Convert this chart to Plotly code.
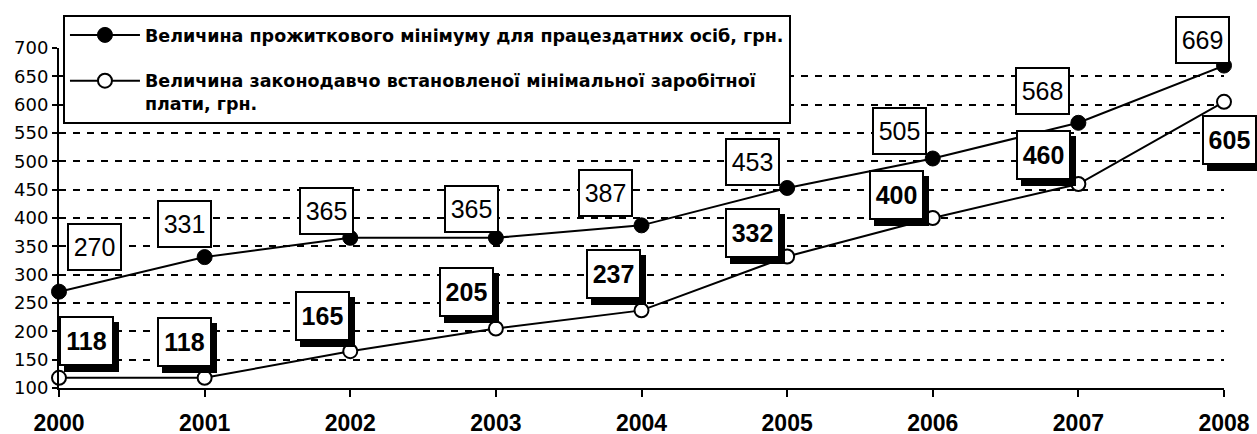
import plotly.graph_objects as go

# ---- data ----
years = [2000, 2001, 2002, 2003, 2004, 2005, 2006, 2007, 2008]
subsistence = [270, 331, 365, 365, 387, 453, 505, 568, 669]
min_wage = [118, 118, 165, 205, 237, 332, 400, 460, 605]
name_sub = "<b>Величина прожиткового мінімуму для працездатних осіб, грн.</b>"
name_wage = "<b>Величина законодавчо встановленої мінімальної заробітної<br>плати, грн.</b>"

# ---- label offsets (pixels, relative to point) ----
sub_dx = [35, -20, -24, -24, -36, -35, -33, -36, -22]
sub_dy = [-45, -33, -27, -29, -32, -26, -28, -32, -26]
wage_dx = [27, -20, -28, -29, -28, -35, -36, -35, 5]
wage_dy = [-37, -36, -35, -37, -36, -24, -23, -29, 38]

FONT = "Arial, Liberation Sans, sans-serif"
WIDE = "DejaVu Sans, Arial, sans-serif"

fig = go.Figure()
fig.add_trace(go.Scatter(
    x=years, y=subsistence, name=name_sub, mode="lines+markers",
    line=dict(color="black", width=2),
    marker=dict(symbol="circle", size=15, color="black", line=dict(color="black", width=1)),
    cliponaxis=False, legendgroup="a",
))
fig.add_trace(go.Scatter(
    x=years, y=min_wage, name=name_wage, mode="lines+markers",
    line=dict(color="black", width=2),
    marker=dict(symbol="circle", size=14, color="white", line=dict(color="black", width=2)),
    cliponaxis=False, legendgroup="b",
))

annotations = []
W, H = 51, 44
for x, v, dx, dy in zip(years, subsistence, sub_dx, sub_dy):
    annotations.append(dict(
        x=x, y=v, xref="x", yref="y", text=str(v), showarrow=False,
        xshift=dx, yshift=-dy, width=W, height=H,
        font=dict(family=FONT, size=25, color="black"),
        bgcolor="white", bordercolor="black", borderwidth=2, borderpad=0,
        align="center", valign="middle",
    ))
for x, v, dx, dy in zip(years, min_wage, wage_dx, wage_dy):
    # shadow
    annotations.append(dict(
        x=x, y=v, xref="x", yref="y", text="<b>%d</b>" % v, showarrow=False,
        xshift=dx + 5, yshift=-dy - 6, width=W, height=H + 2,
        font=dict(family=FONT, size=25, color="black"),
        bgcolor="black", bordercolor="black", borderwidth=2, borderpad=0,
    ))
    annotations.append(dict(
        x=x, y=v, xref="x", yref="y", text="<b>%d</b>" % v, showarrow=False,
        xshift=dx, yshift=-dy, width=W, height=H + 2,
        font=dict(family=FONT, size=25, color="black"),
        bgcolor="white", bordercolor="black", borderwidth=2, borderpad=0,
        align="center", valign="middle",
    ))

fig.update_layout(
    width=1257, height=434,
    margin=dict(l=59, r=33, t=48, b=46, autoexpand=False),
    paper_bgcolor="white", plot_bgcolor="white",
    font=dict(family=FONT, color="black"),
    showlegend=True,
    legend=dict(
        x=0.0034, y=1.097, xanchor="left", yanchor="top",
        bgcolor="white", bordercolor="black", borderwidth=2,
        font=dict(family=WIDE, size=17.5, color="black"),
        traceorder="grouped", tracegroupgap=20, valign="top",
        itemwidth=70,
    ),
    annotations=annotations,
    xaxis=dict(
        range=[2000, 2008], tickvals=years, ticktext=["<b>%d</b>" % y for y in years],
        showgrid=False, zeroline=False, automargin=False,
        showline=True, linecolor="black", linewidth=2,
        ticks="outside", ticklen=7, tickwidth=2, tickcolor="black",
        tickfont=dict(family=FONT, size=23, color="black"),
        ticklabelstandoff=6,
    ),
    yaxis=dict(
        range=[100, 700], dtick=50, tick0=100,
        showgrid=True, gridcolor="black", gridwidth=2, griddash="7px,7px",
        zeroline=False, automargin=False,
        showline=True, linecolor="black", linewidth=2,
        ticks="outside", ticklen=5, tickwidth=2, tickcolor="black",
        tickfont=dict(family=WIDE, size=18, color="black"),
    ),
)

fig.write_html(
    "out.html",
    config={"displayModeBar": False},
    post_script="document.body.style.margin='0';document.body.style.overflow='hidden';",
)
